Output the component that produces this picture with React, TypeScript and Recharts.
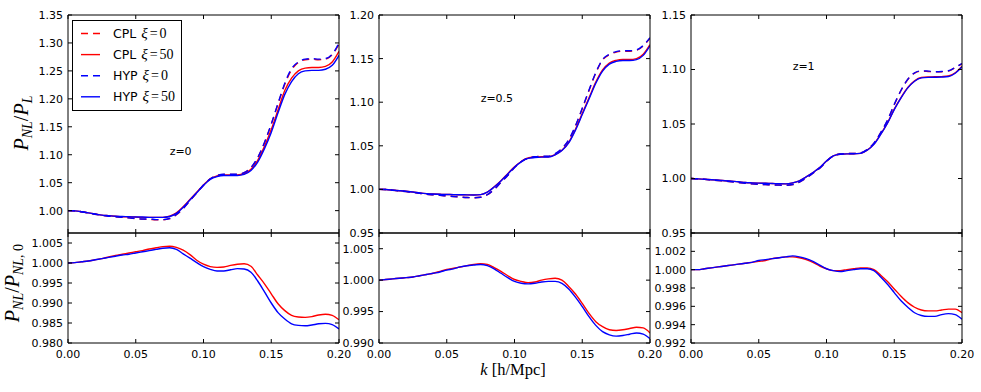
import React from 'react';
import { LineChart, Line, XAxis, YAxis, ReferenceDot } from 'recharts';

// ---------- data ----------
const K = [
  0, 0.005, 0.01, 0.015, 0.02, 0.025, 0.03, 0.035, 0.04, 0.045,
  0.05, 0.055, 0.06, 0.065, 0.07, 0.075, 0.08, 0.085, 0.09, 0.095,
  0.1, 0.105, 0.11, 0.115, 0.12, 0.125, 0.13, 0.135, 0.14, 0.145,
  0.15, 0.155, 0.16, 0.165, 0.17, 0.175, 0.18, 0.185, 0.19, 0.195, 0.2,
];

const X_TICKS = [0, 0.05, 0.1, 0.15, 0.2];

// z = 0, P_NL / P_L
const Z0_CPL0 = [1.000, 0.9995, 0.998, 0.996, 0.9935, 0.9915, 0.990, 0.989, 0.988, 0.987, 0.9858, 0.9848, 0.9845, 0.9838, 0.9838, 0.9858, 0.9928, 1.0038, 1.0178, 1.0318, 1.0458, 1.0568, 1.0628, 1.0648, 1.0648, 1.0648, 1.0678, 1.0768, 1.0945, 1.1215, 1.1545, 1.191, 1.226, 1.252, 1.265, 1.270, 1.271, 1.270, 1.271, 1.279, 1.298];
const Z0_CPL50 = [1.000, 0.9995, 0.998, 0.996, 0.994, 0.992, 0.991, 0.990, 0.989, 0.989, 0.9885, 0.988, 0.988, 0.988, 0.988, 0.990, 0.996, 1.007, 1.020, 1.033, 1.046, 1.057, 1.062, 1.064, 1.064, 1.064, 1.066, 1.074, 1.090, 1.115, 1.145, 1.180, 1.215, 1.237, 1.250, 1.255, 1.256, 1.256, 1.258, 1.266, 1.285];
const Z0_HYP0 = [1.000, 0.9995, 0.998, 0.996, 0.9935, 0.9915, 0.990, 0.989, 0.988, 0.987, 0.986, 0.985, 0.985, 0.984, 0.984, 0.986, 0.993, 1.004, 1.018, 1.032, 1.046, 1.057, 1.063, 1.065, 1.065, 1.065, 1.068, 1.077, 1.095, 1.122, 1.155, 1.192, 1.228, 1.254, 1.266, 1.271, 1.272, 1.271, 1.272, 1.280, 1.300];
const Z0_HYP50 = [1.000, 0.9995, 0.998, 0.996, 0.994, 0.992, 0.991, 0.990, 0.9895, 0.989, 0.9885, 0.9885, 0.988, 0.988, 0.988, 0.9895, 0.995, 1.006, 1.019, 1.032, 1.045, 1.056, 1.061, 1.063, 1.063, 1.063, 1.065, 1.072, 1.087, 1.111, 1.140, 1.175, 1.208, 1.231, 1.245, 1.250, 1.251, 1.251, 1.253, 1.260, 1.278];

// z = 0.5
const Z05_CPL0 = [1.000, 0.9998, 0.9991, 0.9983, 0.9975, 0.9966, 0.9955, 0.9945, 0.9938, 0.9932, 0.9925, 0.9918, 0.9912, 0.9907, 0.9905, 0.991, 0.994, 1.000, 1.008, 1.016, 1.025, 1.032, 1.036, 1.0373, 1.0378, 1.0378, 1.0405, 1.0465, 1.0565, 1.0725, 1.0925, 1.1135, 1.1335, 1.1485, 1.1545, 1.1575, 1.1585, 1.1585, 1.1595, 1.1645, 1.1735];
const Z05_CPL50 = [1.000, 0.9998, 0.9992, 0.9985, 0.9978, 0.997, 0.996, 0.9952, 0.9947, 0.9944, 0.9942, 0.994, 0.9939, 0.9937, 0.9936, 0.994, 0.997, 1.003, 1.010, 1.018, 1.026, 1.032, 1.036, 1.037, 1.0375, 1.0375, 1.040, 1.045, 1.054, 1.069, 1.087, 1.105, 1.123, 1.137, 1.145, 1.148, 1.149, 1.149, 1.150, 1.155, 1.166];
const Z05_HYP0 = [1.000, 0.9998, 0.9991, 0.9983, 0.9975, 0.9966, 0.9955, 0.9945, 0.9938, 0.9932, 0.9925, 0.9918, 0.9912, 0.9907, 0.9905, 0.991, 0.994, 1.000, 1.008, 1.016, 1.025, 1.032, 1.036, 1.0375, 1.038, 1.038, 1.041, 1.047, 1.057, 1.073, 1.093, 1.114, 1.134, 1.149, 1.155, 1.158, 1.159, 1.159, 1.160, 1.165, 1.174];
const Z05_HYP50 = [1.000, 0.9998, 0.9992, 0.9985, 0.9978, 0.997, 0.996, 0.9952, 0.9947, 0.9944, 0.9942, 0.994, 0.9939, 0.9937, 0.9936, 0.994, 0.9968, 1.0027, 1.0097, 1.0177, 1.0255, 1.0315, 1.0355, 1.0365, 1.037, 1.037, 1.0395, 1.0445, 1.0533, 1.068, 1.0858, 1.1037, 1.1217, 1.1357, 1.1437, 1.1468, 1.1478, 1.1478, 1.1488, 1.1537, 1.1647];

// z = 1
const Z1_CPL0 = [1.000, 0.9997, 0.9992, 0.9987, 0.9982, 0.9976, 0.997, 0.9963, 0.9956, 0.9951, 0.9947, 0.9944, 0.9941, 0.9939, 0.9938, 0.9945, 0.9967, 1.0005, 1.0048, 1.0095, 1.0157, 1.0207, 1.0225, 1.0229, 1.023, 1.0234, 1.0265, 1.0323, 1.042, 1.0532, 1.0677, 1.0807, 1.0908, 1.0967, 1.0985, 1.0982, 1.0978, 1.098, 1.0986, 1.1018, 1.1052];
const Z1_CPL50 = [1.000, 0.9997, 0.9993, 0.9989, 0.9985, 0.998, 0.9975, 0.997, 0.9963, 0.996, 0.9958, 0.9956, 0.9954, 0.9952, 0.9951, 0.996, 0.9979, 1.0015, 1.0055, 1.010, 1.016, 1.0208, 1.0223, 1.0226, 1.0226, 1.023, 1.026, 1.0315, 1.0407, 1.051, 1.0636, 1.0743, 1.0835, 1.0896, 1.0927, 1.0932, 1.0933, 1.0935, 1.094, 1.097, 1.103];
const Z1_HYP0 = [1.000, 0.9997, 0.9992, 0.9987, 0.9982, 0.9976, 0.997, 0.9963, 0.9956, 0.9951, 0.9947, 0.9944, 0.9941, 0.9939, 0.9938, 0.9945, 0.9967, 1.0005, 1.0048, 1.0095, 1.0157, 1.0207, 1.0225, 1.0229, 1.023, 1.0234, 1.0266, 1.0325, 1.0422, 1.0535, 1.068, 1.081, 1.0911, 1.097, 1.0988, 1.0985, 1.098, 1.0982, 1.0988, 1.102, 1.1055];
const Z1_HYP50 = [1.000, 0.9997, 0.9993, 0.9989, 0.9985, 0.998, 0.9975, 0.997, 0.9963, 0.996, 0.9958, 0.9956, 0.9954, 0.9952, 0.9951, 0.996, 0.9979, 1.0015, 1.0055, 1.010, 1.016, 1.0208, 1.0223, 1.0226, 1.0226, 1.023, 1.0259, 1.0313, 1.0404, 1.0507, 1.0632, 1.0739, 1.0831, 1.0892, 1.0923, 1.0928, 1.0929, 1.0931, 1.0936, 1.0966, 1.1026];

// ratios P_NL / P_NL,0
const R0_CPL = [1.000, 1.0001, 1.0003, 1.0005, 1.0008, 1.0011, 1.0015, 1.0019, 1.0022, 1.0025, 1.0028, 1.0031, 1.0035, 1.0038, 1.0041, 1.0042, 1.0039, 1.0032, 1.0021, 1.0007, 0.9997, 0.9991, 0.9989, 0.999, 0.9994, 0.9997, 0.9998, 0.9992, 0.997, 0.9948, 0.9923, 0.9898, 0.9881, 0.9869, 0.9865, 0.9864, 0.9866, 0.987, 0.9872, 0.9869, 0.9858];
const R0_HYP = [1.000, 1.0001, 1.0003, 1.0005, 1.0008, 1.0011, 1.0014, 1.0017, 1.002, 1.0022, 1.0025, 1.0028, 1.0031, 1.0034, 1.0037, 1.0038, 1.0034, 1.0023, 1.0012, 1.0001, 0.9991, 0.9984, 0.998, 0.998, 0.9983, 0.9986, 0.9985, 0.9977, 0.9955, 0.9928, 0.990, 0.9876, 0.986, 0.9848, 0.9844, 0.9843, 0.9845, 0.9848, 0.9849, 0.9846, 0.9835];
const R05_CPL = [1.000, 1.0001, 1.0002, 1.0003, 1.0004, 1.0005, 1.0007, 1.0009, 1.0011, 1.0014, 1.0017, 1.0019, 1.0021, 1.0023, 1.0025, 1.0026, 1.0025, 1.002, 1.0014, 1.0007, 1.0001, 0.9998, 0.9996, 0.9997, 1.0, 1.0002, 1.0003, 1.0, 0.999, 0.9978, 0.9963, 0.9947, 0.9934, 0.9926, 0.9921, 0.992, 0.9921, 0.9923, 0.9925, 0.9924, 0.9916];
const R05_HYP = [1.000, 1.0001, 1.0002, 1.0003, 1.0004, 1.0005, 1.0007, 1.0009, 1.0011, 1.0013, 1.0016, 1.0018, 1.0021, 1.0023, 1.0024, 1.0025, 1.0023, 1.0018, 1.0011, 1.0004, 0.9998, 0.9995, 0.9994, 0.9995, 0.9997, 0.9998, 0.9998, 0.9995, 0.9986, 0.9973, 0.9958, 0.9942, 0.9928, 0.9918, 0.9913, 0.9911, 0.9912, 0.9914, 0.9916, 0.9914, 0.9907];
const R1_CPL = [1.000, 1.0, 1.0001, 1.0002, 1.0003, 1.0004, 1.0005, 1.0006, 1.0007, 1.0008, 1.0009, 1.001, 1.0012, 1.0013, 1.0014, 1.0014, 1.0013, 1.0011, 1.0008, 1.0004, 1.0001, 0.9999, 0.9999, 1.0, 1.0001, 1.0002, 1.0002, 1.0, 0.9994, 0.9987, 0.9979, 0.9971, 0.9964, 0.9959, 0.9956, 0.9955, 0.9955, 0.9956, 0.9957, 0.9957, 0.9953];
const R1_HYP = [1.000, 1.0, 1.0001, 1.0002, 1.0003, 1.0004, 1.0005, 1.0006, 1.0007, 1.0008, 1.001, 1.0011, 1.0012, 1.0013, 1.0014, 1.0015, 1.0014, 1.0012, 1.0009, 1.0005, 1.0001, 0.9999, 0.9998, 0.9999, 1.0, 1.0001, 1.0001, 0.9999, 0.9992, 0.9984, 0.9975, 0.9966, 0.9959, 0.9953, 0.995, 0.9949, 0.9949, 0.9951, 0.9952, 0.9951, 0.9946];

const Y_TICKS_Z0 = [1.0, 1.05, 1.1, 1.15, 1.2, 1.25, 1.3, 1.35];
const Y_TICKS_Z05 = [0.95, 1.0, 1.05, 1.1, 1.15, 1.2];
const Y_TICKS_Z1 = [0.95, 1.0, 1.05, 1.1, 1.15];
const Y_TICKS_R0 = [0.98, 0.985, 0.99, 0.995, 1.0, 1.005];
const Y_TICKS_R05 = [0.99, 0.995, 1.0, 1.005];
const Y_TICKS_R1 = [0.992, 0.994, 0.996, 0.998, 1.0, 1.002];

const NOTES = ['z=0', 'z=0.5', 'z=1'];
const NOTE_K = 0.075;
const NOTE_V = 1.1;

const LEGEND = [
  { name: 'CPL', xi: '0', color: '#ff0000', dash: true },
  { name: 'CPL', xi: '50', color: '#ff0000', dash: false },
  { name: 'HYP', xi: '0', color: '#0000ff', dash: true },
  { name: 'HYP', xi: '50', color: '#0000ff', dash: false },
];

// ---------- helpers ----------
function rows(cols: Record<string, number[]>) {
  return K.map((k, i) => {
    const r: Record<string, number> = { k };
    Object.keys(cols).forEach((key) => {
      r[key] = cols[key][i];
    });
    return r;
  });
}

const RED = '#ff0000';
const BLUE = '#0000ff';
const DASH = '7 5';
const LW = 1.4;

const TOP_SERIES = [
  { key: 'cpl0', color: RED, dash: DASH },
  { key: 'cpl50', color: RED, dash: undefined },
  { key: 'hyp0', color: BLUE, dash: DASH },
  { key: 'hyp50', color: BLUE, dash: undefined },
];
const BOT_SERIES = [
  { key: 'cpl', color: RED, dash: undefined },
  { key: 'hyp', color: BLUE, dash: undefined },
];

const TICK_STYLE = { fill: '#000', fontSize: 11, fontFamily: 'DejaVu Sans' };

type PanelProps = {
  left: number;
  top: number;
  w: number;
  h: number;
  data: Record<string, number>[];
  series: { key: string; color: string; dash?: string }[];
  yDomain: [number, number];
  yTicks: number[];
  yDigits: number;
  showX: boolean;
  note?: string;
};

function Panel({ left, top, w, h, data, series, yDomain, yTicks, yDigits, showX, note }: PanelProps) {
  const LEFT_W = 60;
  const RIGHT_W = 5;
  const TOP_H = 5;
  const BOT_H = showX ? 30 : 5;
  return (
    <div style={{ position: 'absolute', left: left - LEFT_W + 0.5, top: top - TOP_H + 0.5 }}>
      <LineChart
        width={LEFT_W + w + RIGHT_W}
        height={TOP_H + h + BOT_H}
        data={data}
        margin={{ top: 0, right: 0, bottom: 0, left: 0 }}
        style={{ overflow: 'visible' }}
      >
        <XAxis
          dataKey="k"
          type="number"
          domain={[0, 0.2]}
          ticks={X_TICKS}
          interval={0}
          allowDataOverflow
          height={BOT_H}
          stroke="#000"
          axisLine={{ stroke: '#000', strokeWidth: 1 }}
          tickLine={{ stroke: '#000', strokeWidth: 1 }}
          tickSize={-4}
          tickMargin={showX ? 11 : 0}
          tick={TICK_STYLE}
          tickFormatter={(v: number) => (showX ? Number(v).toFixed(2) : '')}
        />
        <XAxis
          xAxisId="top"
          orientation="top"
          dataKey="k"
          type="number"
          domain={[0, 0.2]}
          ticks={X_TICKS}
          interval={0}
          allowDataOverflow
          height={TOP_H}
          stroke="#000"
          axisLine={{ stroke: '#000', strokeWidth: 1 }}
          tickLine={{ stroke: '#000', strokeWidth: 1 }}
          tickSize={-4}
          tick={TICK_STYLE}
          tickFormatter={() => ''}
        />
        <YAxis
          type="number"
          domain={yDomain}
          ticks={yTicks}
          interval={0}
          allowDataOverflow
          width={LEFT_W}
          stroke="#000"
          axisLine={{ stroke: '#000', strokeWidth: 1 }}
          tickLine={{ stroke: '#000', strokeWidth: 1 }}
          tickSize={-4}
          tickMargin={9}
          tick={TICK_STYLE}
          tickFormatter={(v: number) => Number(v).toFixed(yDigits)}
        />
        <YAxis
          yAxisId="r"
          orientation="right"
          type="number"
          domain={yDomain}
          ticks={yTicks}
          interval={0}
          allowDataOverflow
          width={RIGHT_W}
          stroke="#000"
          axisLine={{ stroke: '#000', strokeWidth: 1 }}
          tickLine={{ stroke: '#000', strokeWidth: 1 }}
          tickSize={-4}
          tick={TICK_STYLE}
          tickFormatter={() => ''}
        />
        {series.map((s) => (
          <Line
            key={s.key}
            dataKey={s.key}
            type="monotone"
            stroke={s.color}
            strokeWidth={LW}
            strokeDasharray={s.dash}
            dot={false}
            activeDot={false}
            isAnimationActive={false}
          />
        ))}
        {note ? (
          <ReferenceDot
            x={NOTE_K}
            y={NOTE_V}
            r={0}
            fill="none"
            stroke="none"
            label={(p: any) => (
              <text
                x={p.viewBox.x}
                y={p.viewBox.y}
                fontFamily="DejaVu Sans"
                fontSize={11}
                fill="#000"
                textAnchor="start"
              >
                {note}
              </text>
            )}
          />
        ) : null}
      </LineChart>
    </div>
  );
}

const PANEL_LEFT = [67, 378, 690];
const PANEL_W = 271;
const TOP_Y = 14;
const TOP_H = 218;
const BOT_Y = 232;
const BOT_H = 110;

export default function App() {
  const top0 = rows({ cpl0: Z0_CPL0, cpl50: Z0_CPL50, hyp0: Z0_HYP0, hyp50: Z0_HYP50 });
  const top05 = rows({ cpl0: Z05_CPL0, cpl50: Z05_CPL50, hyp0: Z05_HYP0, hyp50: Z05_HYP50 });
  const top1 = rows({ cpl0: Z1_CPL0, cpl50: Z1_CPL50, hyp0: Z1_HYP0, hyp50: Z1_HYP50 });
  const bot0 = rows({ cpl: R0_CPL, hyp: R0_HYP });
  const bot05 = rows({ cpl: R05_CPL, hyp: R05_HYP });
  const bot1 = rows({ cpl: R1_CPL, hyp: R1_HYP });

  const serif = 'Liberation Serif';

  return (
    <div style={{ position: 'absolute', left: 0, top: 0, width: 981, height: 392, background: '#fff', overflow: 'hidden' }}>
      <style>{`svg.recharts-surface { overflow: visible; }`}</style>
      <Panel left={PANEL_LEFT[0]} top={TOP_Y} w={PANEL_W} h={TOP_H} data={top0} series={TOP_SERIES} yDomain={[0.96, 1.35]} yTicks={Y_TICKS_Z0} yDigits={2} showX={false} note={NOTES[0]} />
      <Panel left={PANEL_LEFT[1]} top={TOP_Y} w={PANEL_W} h={TOP_H} data={top05} series={TOP_SERIES} yDomain={[0.95, 1.2]} yTicks={Y_TICKS_Z05} yDigits={2} showX={false} note={NOTES[1]} />
      <Panel left={PANEL_LEFT[2]} top={TOP_Y} w={PANEL_W} h={TOP_H} data={top1} series={TOP_SERIES} yDomain={[0.95, 1.15]} yTicks={Y_TICKS_Z1} yDigits={2} showX={false} note={NOTES[2]} />
      <Panel left={PANEL_LEFT[0]} top={BOT_Y} w={PANEL_W} h={BOT_H} data={bot0} series={BOT_SERIES} yDomain={[0.98, 1.0075]} yTicks={Y_TICKS_R0} yDigits={3} showX={true} />
      <Panel left={PANEL_LEFT[1]} top={BOT_Y} w={PANEL_W} h={BOT_H} data={bot05} series={BOT_SERIES} yDomain={[0.99, 1.0075]} yTicks={Y_TICKS_R05} yDigits={3} showX={true} />
      <Panel left={PANEL_LEFT[2]} top={BOT_Y} w={PANEL_W} h={BOT_H} data={bot1} series={BOT_SERIES} yDomain={[0.992, 1.004]} yTicks={Y_TICKS_R1} yDigits={3} showX={true} />

      <svg width={981} height={392} style={{ position: 'absolute', left: 0, top: 0, pointerEvents: 'none' }}>
        {/* y label top */}
        <text transform="translate(28,123) rotate(-90)" textAnchor="middle" fontFamily={serif} fontSize={20} fill="#000">
          <tspan fontStyle="italic">P</tspan>
          <tspan fontStyle="italic" fontSize={14} dy={4}>NL</tspan>
          <tspan dy={-4}>/</tspan>
          <tspan fontStyle="italic">P</tspan>
          <tspan fontStyle="italic" fontSize={14} dy={4}>L</tspan>
        </text>
        {/* y label bottom */}
        <text transform="translate(19,283) rotate(-90)" textAnchor="middle" fontFamily={serif} fontSize={20} fill="#000">
          <tspan fontStyle="italic">P</tspan>
          <tspan fontStyle="italic" fontSize={14} dy={4}>NL</tspan>
          <tspan dy={-4}>/</tspan>
          <tspan fontStyle="italic">P</tspan>
          <tspan fontStyle="italic" fontSize={14} dy={4}>NL</tspan>
          <tspan fontSize={14}>, 0</tspan>
        </text>
        {/* x label */}
        <text x={513} y={375} textAnchor="middle" fontFamily={serif} fontSize={16.5} fill="#000">
          <tspan fontStyle="italic">k</tspan>
          <tspan> [h/Mpc]</tspan>
        </text>
        {/* legend */}
        <rect x={72.5} y={20.5} width={109} height={90} fill="#fff" stroke="#000" strokeWidth={1} />
        {LEGEND.map((e, i) => {
          const cy = 33.5 + i * 21.1;
          return (
            <g key={i}>
              <line x1={81} x2={100} y1={cy} y2={cy} stroke={e.color} strokeWidth={LW} strokeDasharray={e.dash ? DASH : undefined} />
              <text x={113} y={cy + 4.5} fontSize={12.5} fontFamily="DejaVu Sans" fill="#000">
                {e.name}
                <tspan dx={5} fontFamily={serif} fontStyle="italic" fontSize={15}>ξ</tspan>
                <tspan dx={2} fontFamily={serif} fontSize={14}>=</tspan>
                <tspan dx={2} fontFamily={serif} fontSize={14}>{e.xi}</tspan>
              </text>
            </g>
          );
        })}
      </svg>
    </div>
  );
}
